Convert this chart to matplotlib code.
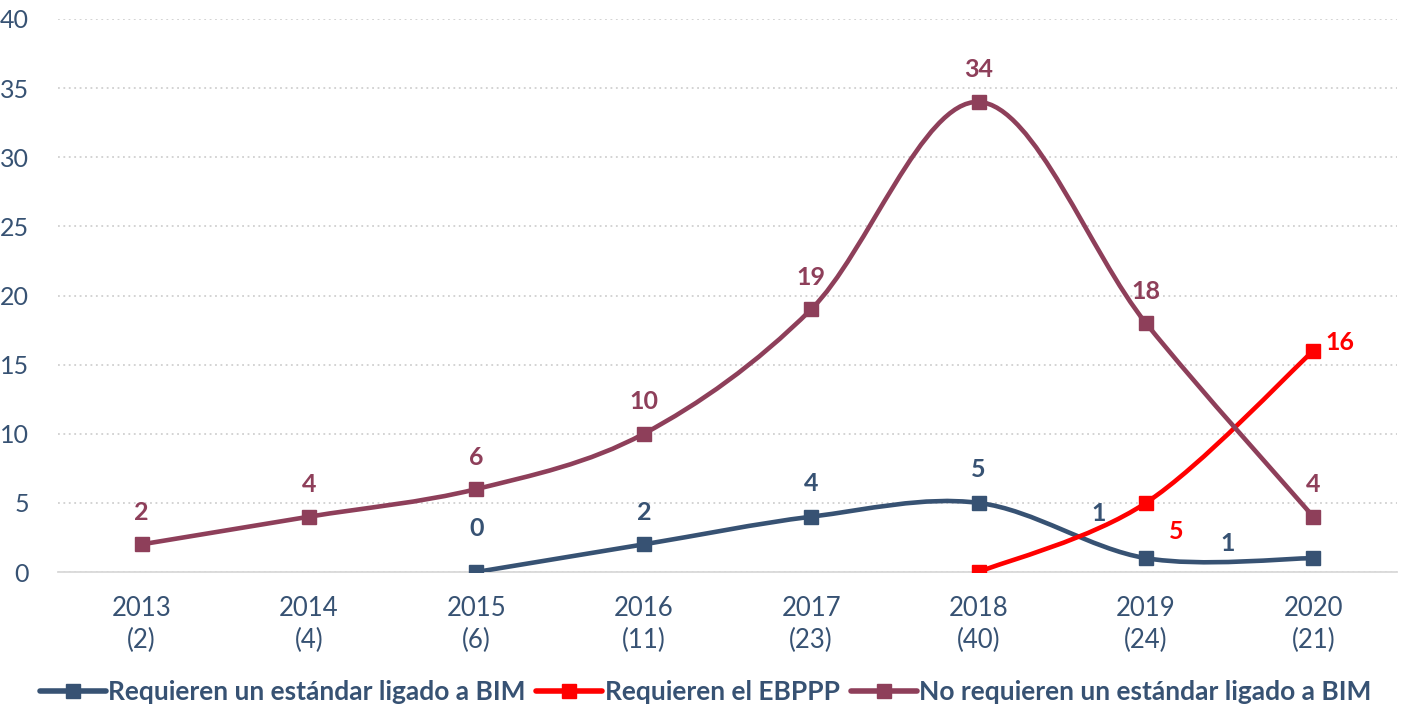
import numpy as np
import matplotlib
matplotlib.use('Agg')
import matplotlib.pyplot as plt
from matplotlib.path import Path
from matplotlib.patches import PathPatch
from matplotlib.lines import Line2D

plt.rcParams['font.family'] = ['Lato', 'DejaVu Sans']

years = ['2013', '2014', '2015', '2016', '2017', '2018', '2019', '2020']
totals = [2, 4, 6, 11, 23, 40, 24, 21]

# each series: values plus the index of the first year it starts at
bim_std = [0, 2, 4, 5, 1, 1]          # from 2015
bim_std_start = 2
ebppp = [0, 5, 16]                    # from 2018
ebppp_start = 5
no_std = [2, 4, 6, 10, 19, 34, 18, 4]  # from 2013
no_std_start = 0

names = ['Requieren un estándar ligado a BIM', 'Requieren el EBPPP',
         'No requieren un estándar ligado a BIM']
colors = ['#375273', '#ff0000', '#8e3f5a']
text_color = '#375273'

# label offsets in pixels (dx, dy) per point
bim_std_off = [(0, 44), (0, 32), (0, 33), (0, 33), (-47, 45), (-86, 15)]
ebppp_off = [None, (30, -29), (27, 8)]
no_std_off = [(0, 32)] * 8


def smooth_path(x, y):
    """Bezier path through the points, like a spreadsheet smoothed line."""
    pts = np.column_stack([x, y]).astype(float)
    n = len(pts)
    verts = [pts[0]]
    codes = [Path.MOVETO]
    for i in range(n - 1):
        p0 = pts[i - 1] if i > 0 else pts[i]
        p3 = pts[i + 2] if i + 2 < n else pts[i + 1]
        c1 = pts[i] + (pts[i + 1] - p0) / 6
        c2 = pts[i + 1] - (p3 - pts[i]) / 6
        verts += [c1, c2, pts[i + 1]]
        codes += [Path.CURVE4] * 3
    return Path(verts, codes)


fig = plt.figure(figsize=(14.03, 7.09), dpi=100)
ax = fig.add_axes([58 / 1403, 137 / 709, 1339 / 1403, 553 / 709])

series = [(bim_std, bim_std_start, bim_std_off),
          (ebppp, ebppp_start, ebppp_off),
          (no_std, no_std_start, no_std_off)]

for k, (vals, start, offs) in enumerate(series):
    x = np.arange(start, start + len(vals))
    patch = PathPatch(smooth_path(x, vals), facecolor='none', edgecolor=colors[k],
                      linewidth=3.3, capstyle='round', zorder=3)
    ax.add_patch(patch)
    ax.plot(x, vals, linestyle='none', marker='s', markersize=9.5, color=colors[k], zorder=4)
    for xi, v, off in zip(x, vals, offs):
        if off is None:
            continue
        ax.annotate(str(v), (xi, v), xytext=off, textcoords='offset pixels',
                    ha='center', va='center', fontsize=18, fontweight='bold',
                    color=colors[k], zorder=5)

ax.set_xlim(-0.5, 7.5)
ax.set_ylim(0, 40)
ax.set_yticks(range(0, 41, 5))
ax.set_xticks(range(len(years)))
ax.set_xticklabels(['%s\n(%d)' % (y, t) for y, t in zip(years, totals)],
                   fontsize=18.5, color=text_color, linespacing=1.35)
ax.tick_params(axis='y', labelsize=18, labelcolor=text_color, length=0, pad=21)
ax.tick_params(axis='x', length=0, pad=17)
ax.grid(axis='y', color='#d0d0d0', linestyle=(0, (1, 2)), linewidth=1.3)
for s in ['top', 'right', 'left']:
    ax.spines[s].set_visible(False)
ax.spines['bottom'].set_color('#d9d9d9')
ax.spines['bottom'].set_linewidth(1.3)

handles = [Line2D([], [], color=c, linewidth=4, marker='s', markersize=10,
                  solid_capstyle='round') for c in colors]
leg = fig.legend(handles, names, loc='lower center', bbox_to_anchor=(0.503, -0.027), ncol=3,
                 frameon=False, fontsize=19, handlelength=2.5, handletextpad=0.1,
                 columnspacing=0.4)
for t in leg.get_texts():
    t.set_color(text_color)
    t.set_fontweight('bold')

fig.savefig('out.png', dpi=100)
